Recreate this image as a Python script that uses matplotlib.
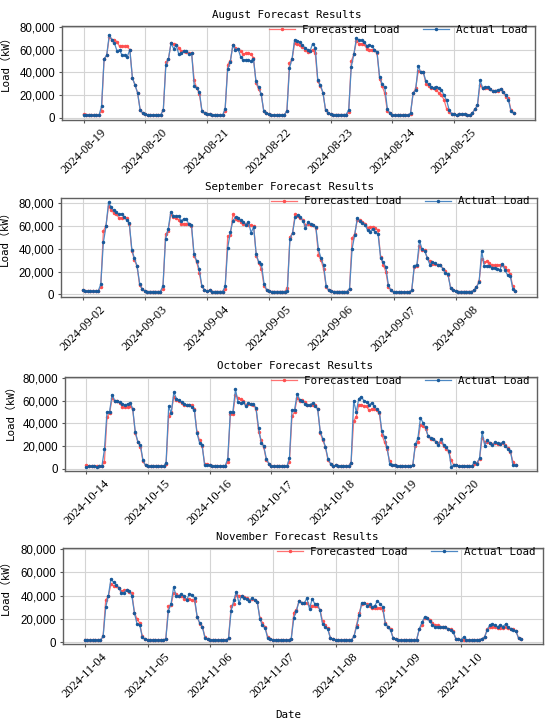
import numpy as np
import pandas as pd
import matplotlib
matplotlib.use("Agg")
import matplotlib.pyplot as plt
import matplotlib.dates as mdates

# hourly load (kW), one row per day, 7 days per month
aug_start = "2024-08-19"
aug_actual = [
    [2800,2200,2000,2000,2000,2000,2000,10000,52000,55000,73000,69000,66000,59000,60000,55000,55000,54000,60000,35000,29000,22000,7000,4000],
    [3000,2500,2500,2500,2500,2500,2500,7000,47000,52000,66000,61000,64000,56000,57000,59000,59000,56000,57000,28000,26000,23000,6000,4000],
    [3000,3000,2500,2500,2500,2200,2200,8000,43000,49000,64000,60000,61000,54000,51000,51000,51000,50000,52000,32000,27000,21000,6000,4000],
    [3000,2500,2500,2500,2500,2500,2500,6000,44000,52000,69000,68000,67000,64000,62000,60000,59000,65500,62000,33000,29000,22000,7000,4500],
    [3000,2800,2800,2800,2800,2800,2800,7000,45000,56000,70500,68500,68500,67000,63500,64000,63500,60000,58000,36000,30000,27000,8000,4000],
    [2500,2000,2000,2000,2000,2000,2000,4000,21500,24500,46000,40000,40000,32000,30000,27500,26500,27500,26500,24500,20000,15500,7000,3500],
    [3000,2500,3000,3500,3500,2500,2000,4000,7500,11000,33000,26500,27000,27000,25000,23500,24000,24500,25500,23000,20000,16000,6000,4000],
]
aug_forecast = [
    [3000,2800,2800,2700,2700,2700,2700,6000,52000,55000,71000,69000,69000,67000,63000,63000,63000,63000,60000,35000,29000,22000,7000,4000],
    [3000,2500,2500,2500,2500,2500,2500,7000,49000,52000,66000,65000,64000,62000,59000,59000,58000,57000,57000,33000,26000,21000,6000,4000],
    [3000,3000,2500,2500,2500,2200,2200,6000,47000,50000,64000,62000,61000,59000,56000,57000,57000,56000,53000,31000,25000,21000,6000,4000],
    [3000,2500,2500,2500,2500,2500,2500,6000,48500,51500,66000,65000,64000,62500,60000,58000,59000,60000,57000,32000,28000,22000,7000,4500],
    [3000,2800,2800,2800,2800,2800,2800,5000,50000,56000,67500,65500,65500,65000,61000,60000,60000,59500,57000,34500,28000,21500,6000,4000],
    [2500,2000,2000,2000,2000,2000,2000,3500,21500,26000,41000,40000,40000,30000,28000,26500,26000,24500,22000,20000,16000,8000,5500,3500],
    [3000,2500,3000,3500,3500,2500,2000,4000,7500,11000,29000,26000,26500,26500,25000,23500,24000,24000,25000,23000,18500,17500,7000,4500],
]

sep_start = "2024-09-02"
sep_actual = [
    [4000,3000,2800,2800,2800,2800,2800,9000,45500,59500,80500,76500,73500,72000,70000,70500,67500,65000,62500,39000,31500,25000,9500,4500],
    [3000,2500,2500,2500,2500,2500,2500,7500,48500,57000,72000,69000,68500,69000,64500,66000,66000,61500,61000,35000,29500,22000,7500,4000],
    [3000,3500,2500,2500,2500,2500,2500,7000,41000,54500,64500,67500,66500,65000,63500,61000,63500,54000,59000,35000,28000,26500,9500,4000],
    [2700,2500,2500,2500,2500,2500,2500,2700,48500,53500,67500,69500,67500,64500,58500,63000,61500,61000,59000,39500,31500,25500,7000,3500],
    [2700,2500,2500,2500,2500,2500,2500,5000,40000,52000,67000,64000,62500,61000,56000,55000,57500,54500,53000,32000,28000,24000,8000,3500],
    [2000,2000,2000,2000,2000,2000,2000,3500,25000,26000,47000,39500,38000,32000,26000,28500,27500,25500,26000,22500,19000,17500,5500,3500],
    [2700,2500,2500,2500,2500,2500,2500,3500,6500,10500,38000,25000,25000,25000,23500,23500,22500,21500,27000,21000,17000,16500,5000,3000],
]
sep_forecast = [
    [4000,3000,2800,2800,2800,2800,2800,6500,55500,60000,77000,73500,71500,70500,67000,67000,67500,66500,61500,38000,30000,24500,8000,4500],
    [3000,2500,2500,2500,2500,2500,2500,5000,52500,55500,70000,67500,67000,65500,61500,62000,62000,61500,59500,34000,28500,19000,7000,4000],
    [3000,3500,2500,2500,2500,2500,2500,5000,51000,52000,70000,66000,65000,63500,61500,62000,61000,60500,59500,34000,27500,22000,7500,4000],
    [2700,2500,2500,2500,2500,2500,2500,5500,50000,54000,70000,68500,67000,65500,61000,61500,61000,60500,58500,34500,30000,22000,6500,3500],
    [2700,2500,2500,2500,2500,2500,2500,5000,49000,53000,65000,65000,63500,62000,58500,59000,59000,58000,56000,33000,26000,20000,6500,3500],
    [2000,2000,2000,2000,2000,2000,2000,3500,24000,24500,42000,38500,38500,32000,29000,27000,27000,26000,26000,22500,20500,17000,6000,3500],
    [2700,2500,2500,2500,2500,2500,2500,3500,6500,11500,31000,28000,29000,27500,25500,25500,25500,26000,26000,24000,21000,18000,7000,3000],
]

oct_start = "2024-10-14"
oct_actual = [
    [1500,2000,2000,2000,1500,2000,2000,17000,50000,50500,65500,60000,60000,58500,57000,56500,57000,58000,53000,32500,24000,21000,7500,3000],
    [2500,2000,2000,2000,2000,2000,2000,5500,55000,49000,67500,62000,60500,59000,57000,56500,56500,54500,51500,31500,23000,21000,3000,3000],
    [3000,2500,2500,2500,2500,2500,2500,9000,50000,50500,70000,58500,58000,58500,55500,58000,57000,57000,53500,36000,23000,20000,9000,4500],
    [2300,2000,2000,2000,2000,2000,2000,9500,52000,52000,66000,61000,59500,57500,56000,56500,58000,55500,52500,32500,26500,19500,9000,4500],
    [2300,3000,2500,2500,2500,2500,2500,5000,60000,50000,62000,63500,60000,59000,56500,58000,55500,52500,50000,33000,28000,19000,4500,3000],
    [3000,2500,2500,2500,2500,2500,2500,3000,21500,27000,45000,40500,36500,28500,27000,26500,24000,21000,26500,21000,19000,16000,1500,3500],
    [3000,2500,2500,2500,2500,2500,2500,6000,4500,9500,32500,20500,25000,23000,21000,23500,22500,22000,23500,20500,17500,16000,3000,3000],
]
oct_forecast = [
    [3000,2500,2500,2500,2500,2500,2500,6000,45500,49000,62500,59500,59500,58000,54500,54500,54500,55000,52500,31500,23500,19500,6500,3000],
    [2500,2000,2000,2000,2000,2000,2000,4500,47000,50500,63000,61000,59500,58000,56500,56500,56500,56000,53000,32500,25000,20500,4500,4500],
    [3000,2500,2500,2500,2500,2500,2500,6000,48500,48500,65000,62500,61500,60000,56500,57000,57000,56500,53000,32500,25500,19000,7500,4500],
    [2300,2000,2000,2000,2000,2000,2000,6000,46500,50000,62500,60000,60500,59000,56500,56000,56500,56000,53000,31500,25000,19000,7500,4500],
    [2300,3000,2500,2500,2500,2500,2500,5500,42500,45500,56500,56500,55500,55000,51500,52500,52500,51500,49500,30000,23500,17000,6500,3000],
    [3000,2500,2500,2500,2500,2500,2500,3000,20500,24000,38500,37500,35500,28500,26500,26000,23500,23000,23500,20500,17500,15000,7500,3000],
    [3000,2500,2500,2500,2500,2500,2500,4500,5500,9000,27500,23500,24000,23000,22000,22500,22000,22000,23000,21000,18000,15000,6000,3500],
]

nov_start = "2024-11-04"
nov_actual = [
    [2300,1700,1700,1700,1700,1700,1700,5000,30000,40000,54500,51500,49500,47000,42500,42500,45000,44000,40000,25000,15500,15000,4500,2500],
    [2300,1700,1700,1700,1700,1700,1700,3000,27000,33000,47500,39500,39500,41500,39500,36500,41500,41000,38000,21500,16500,13000,3500,2500],
    [2300,1700,1700,1700,1700,1700,1700,3500,27000,36000,43500,33500,40000,38000,37000,35500,38000,36500,35000,20000,14500,12000,3500,2500],
    [2300,1700,1700,1700,1700,1700,1700,3000,21000,27000,35500,34000,33500,38000,28500,37500,33000,32500,27500,15500,13500,11000,3500,2500],
    [2300,1700,1700,1700,1700,1700,1700,5000,13500,23000,34000,34000,31500,32500,30500,31500,35500,33000,30500,16000,13000,10500,3500,2500],
    [2300,1700,1700,1700,1700,1700,1700,2300,11500,17000,21500,21000,18000,15000,13500,13500,13500,13000,13000,11500,10500,8500,3000,2500],
    [2300,4500,1800,1800,1800,1800,1800,2300,3000,4500,10500,15000,15500,14500,13000,15000,13500,15500,13000,11500,10500,9500,3500,2500],
]
nov_forecast = [
    [2300,1700,1700,1700,1700,1700,1700,5000,36500,39500,50000,48500,48500,46500,44000,44500,44500,43500,42000,25500,20000,16500,5000,2500],
    [2300,1700,1700,1700,1700,1700,1700,3000,31000,32000,42500,41500,40000,40000,37000,37000,37000,36500,35500,22000,16000,13500,4500,2500],
    [2300,1700,1700,1700,1700,1700,1700,3500,31000,33000,41000,40000,39500,38500,38000,36500,37000,36500,34500,21000,16500,13000,4500,2500],
    [2300,1700,1700,1700,1700,1700,1700,3000,25500,28000,35500,34000,33500,34000,31500,31500,31500,31000,28000,18000,14500,12000,3500,2500],
    [2300,1700,1700,1700,1700,1700,1700,5000,15000,25000,33000,33500,32500,31000,29500,29500,29500,29500,28000,16500,13500,11500,3500,2500],
    [2300,1700,1700,1700,1700,1700,1700,2300,11000,14500,21000,21000,19500,16500,15000,14500,13500,13500,13000,11500,11000,9500,3000,2500],
    [2300,2300,1800,1800,1800,1800,1800,2300,3000,4500,11000,13500,13000,13000,12500,12500,12500,13000,12500,11500,11000,9500,3500,2500],
]

months = ["August", "September", "October", "November"]
starts = [aug_start, sep_start, oct_start, nov_start]
actuals = [aug_actual, sep_actual, oct_actual, nov_actual]
forecasts = [aug_forecast, sep_forecast, oct_forecast, nov_forecast]

# axes boxes in pixels (left, top, right, bottom) on a 550x720 canvas
boxes = [(62, 26, 535, 120), (61, 198, 537, 297), (65, 377, 537, 471), (63, 548, 543, 644)]
ylims = [(-2000, 81000), (-2300, 84400), (-2000, 81000), (-1500, 81000)]
title_x = [0.476, 0.481, 0.487, 0.489]
ylab_pos = [(-0.108, 0.633), (-0.108, 0.62), (-0.105, 0.654), (-0.109, 0.615)]

W, H = 550, 720
fig = plt.figure(figsize=(W / 100, H / 100), dpi=100)

mono = ["DejaVu Sans Mono", "Noto Sans CJK SC"]
fc_color = "#ff7272"
act_color = "#4d88c4"
fs = 7.8

for i in range(4):
    l, t, r, b = boxes[i]
    ax = fig.add_axes([l / W, 1 - b / H, (r - l) / W, (b - t) / H])
    times = pd.date_range(starts[i], periods=168, freq="h")
    fc = np.concatenate(forecasts[i])
    act = np.concatenate(actuals[i])
    ax.plot(times, fc, color=fc_color, lw=0.9, marker=".", ms=3,
            mfc="#ff5050", mec="#ff5050", label="Forecasted Load")
    ax.plot(times, act, color=act_color, lw=0.9, marker=".", ms=3,
            mfc="#1a5a9a", mec="#1a5a9a", label="Actual Load")
    ax.set_ylim(*ylims[i])
    ax.set_yticks([0, 20000, 40000, 60000, 80000])
    ax.yaxis.set_major_formatter(matplotlib.ticker.FuncFormatter(lambda v, p: f"{int(v):,}"))
    ax.set_xticks(times[::24])
    ax.xaxis.set_major_formatter(mdates.DateFormatter("%Y-%m-%d"))
    for lab in ax.get_xticklabels():
        lab.set_rotation(45)
        lab.set_fontfamily("Liberation Serif")
        lab.set_fontsize(9)
    for lab in ax.get_yticklabels():
        lab.set_fontfamily("Liberation Sans")
        lab.set_fontsize(8.3)
    ax.tick_params(length=2.5, pad=2.5, color="#555555")
    ax.grid(True, color="#d4d4d4", lw=0.8)
    ax.set_axisbelow(True)
    for s in ax.spines.values():
        s.set_color("#606060")
        s.set_linewidth(1.0)
    ax.set_title(f"{months[i]} Forecast Results", family=mono, fontsize=fs, x=title_x[i])
    ax.set_ylabel("Load（kW）", family=mono, fontsize=fs)
    ax.yaxis.set_label_coords(*ylab_pos[i])
    ax.legend(loc="upper right", bbox_to_anchor=(1.005, 1.115), ncol=2, frameon=False,
              prop={"family": mono, "size": fs}, handlelength=2.4,
              handletextpad=0.7, columnspacing=2.1, borderaxespad=0.5)
    if i == 3:
        ax.set_xlabel("Date", family=mono, fontsize=fs)
        ax.xaxis.set_label_coords(0.47, -0.69)

fig.savefig("out.png", dpi=100)
